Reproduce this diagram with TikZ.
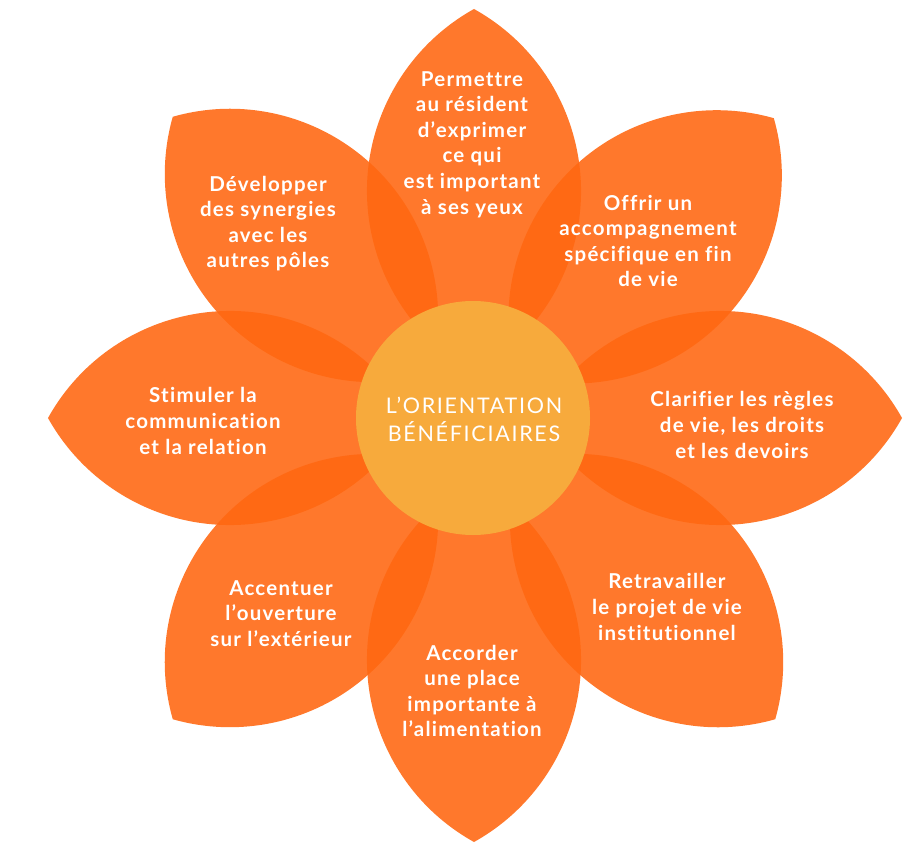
\documentclass[tikz,border=0pt]{standalone}
\usepackage{fontspec}
\setmainfont{Lato}[Ligatures=NoCommon]
\definecolor{petalcol}{RGB}{255,104,18}
\definecolor{corecol}{RGB}{247,170,60}
\tikzset{
  petalshape/.style={fill=petalcol, fill opacity=0.89, draw=none},
  petaltext/.style={text=white, align=center, font=\fontsize{20.5}{25.6}\selectfont\bfseries\addfontfeature{LetterSpace=6}, inner sep=0pt},
  coretext/.style={text=white, align=center, font=\fontsize{21.5}{28}\selectfont\addfontfeature{LetterSpace=8}, inner sep=0pt},
  coredisc/.style={circle, fill=corecol, draw=none, minimum size=234pt, inner sep=0pt}
}
% petal: vesica of half-length 182pt and half-width 107pt
\def\ph{182}
\def\pR{208.28}
\def\aA{150.91}
\def\aB{29.09}
\newcommand{\flowerpetal}[2]{%
  \begin{scope}[shift={(474,-418)}, rotate=#1]
    \pgfmathsetmacro{\pin}{#2-2*\ph}
    \path[petalshape] (\pin,0) arc[start angle=\aA, end angle=\aB, radius=\pR pt]
      arc[start angle=-\aB, end angle=-\aA, radius=\pR pt] -- cycle;
  \end{scope}}
\begin{document}
\begin{tikzpicture}[x=1pt, y=1pt]
\useasboundingbox (0,0) rectangle (922,-851);
\fill[white] (0,0) rectangle (922,-851);
\flowerpetal{0}{428}
\flowerpetal{45}{424}
\flowerpetal{90}{409}
\flowerpetal{135}{426}
\flowerpetal{180}{426}
\flowerpetal{225}{426}
\flowerpetal{270}{424}
\flowerpetal{315}{426}
\node[coredisc] (core) at (473,-418) {};
\node[coretext] (coretitle) at (474,-419) {L’ORIENTATION\\BÉNÉFICIAIRES};
\node[petaltext] (p1) at (472,-144.5) {Permettre\\au résident\\d’exprimer\\ce qui\\est important\\à ses yeux};
\node[petaltext] (p2) at (648,-241) {Offrir un\\accompagnement\\spécifique en fin\\de vie};
\node[petaltext] (p3) at (742,-425) {Clarifier les règles\\de vie, les droits\\et les devoirs};
\node[petaltext] (p4) at (667,-607) {Retravailler\\le projet de vie\\institutionnel};
\node[petaltext] (p5) at (472,-691) {Accorder\\une place\\importante à\\l’alimentation};
\node[petaltext] (p6) at (281,-613.5) {Accentuer\\l’ouverture\\sur l’extérieur};
\node[petaltext] (p7) at (203,-421) {Stimuler la\\communication\\et la relation};
\node[petaltext] (p8) at (268,-223.5) {Développer\\des synergies\\avec les\\autres pôles};
\end{tikzpicture}
\end{document}
